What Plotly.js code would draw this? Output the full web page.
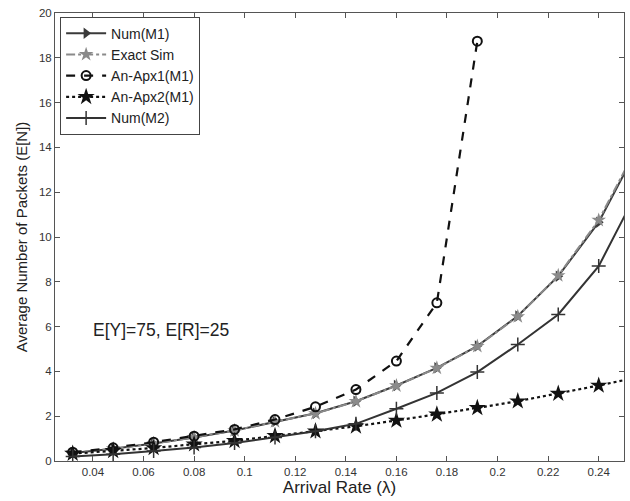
<!DOCTYPE html>
<html><head><meta charset="utf-8">
<script src="https://cdn.plot.ly/plotly-3.0.1.min.js"></script>
<style>body{margin:0;background:#fff}#chart{width:630px;height:501px}</style>
</head><body><div id="chart"></div>
<script>
const lambda = [0.032,0.048,0.064,0.08,0.096,0.112,0.128,0.144,0.16,0.176,0.192,0.208,0.224,0.24,0.256];
const numM1   = [0.36,0.55,0.78,1.05,1.36,1.76,2.13,2.67,3.37,4.16,5.13,6.47,8.25,10.66,14.1];
const exactSim= [0.36,0.55,0.78,1.05,1.36,1.76,2.12,2.66,3.36,4.15,5.12,6.45,8.28,10.75,14.2];
const lambdaApx1 = [0.032,0.048,0.064,0.08,0.096,0.112,0.128,0.144,0.16,0.176,0.192];
const anApx1  = [0.39,0.59,0.84,1.11,1.41,1.85,2.42,3.19,4.46,7.06,18.74];
const anApx2  = [0.33,0.45,0.58,0.75,0.9,1.12,1.33,1.55,1.81,2.08,2.37,2.67,3.01,3.37,3.75];
const numM2   = [0.2,0.3,0.45,0.6,0.8,1.05,1.33,1.66,2.33,3.04,3.97,5.2,6.54,8.7,12.2];
const seriesNames = ['Num(M1)','Exact Sim','An-Apx1(M1)','An-Apx2(M1)','Num(M2)'];
const xTicks = [0.04,0.06,0.08,0.1,0.12,0.14,0.16,0.18,0.2,0.22,0.24];
const xTickText = ['0.04','0.06','0.08','0.1','0.12','0.14','0.16','0.18','0.2','0.22','0.24'];
const yTicks = [0,2,4,6,8,10,12,14,16,18,20];

const traces = [
  {x:lambda,y:numM1,name:seriesNames[0],mode:'lines+markers',
   line:{color:'#3a3a3a',width:2},marker:{symbol:'triangle-right',size:10,color:'#3a3a3a'}},
  {x:lambda,y:exactSim,name:seriesNames[1],mode:'lines+markers',
   line:{color:'#8a8a8a',width:2,dash:'dashdot'},marker:{symbol:'star',size:11,color:'#8a8a8a'}},
  {x:lambdaApx1,y:anApx1,name:seriesNames[2],mode:'lines+markers',
   line:{color:'#111',width:2.2,dash:'dash'},marker:{symbol:'circle-open',size:9,color:'#111',line:{width:2}}},
  {x:lambda,y:anApx2,name:seriesNames[3],mode:'lines+markers',
   line:{color:'#111',width:2.2,dash:'dot'},marker:{symbol:'star',size:13,color:'#111'}},
  {x:lambda,y:numM2,name:seriesNames[4],mode:'lines+markers',
   line:{color:'#333',width:2},marker:{symbol:'cross-thin-open',size:10,color:'#333',line:{width:1.5,color:'#333'}}}
];

const layout = {
  width:630,height:501,
  margin:{l:55,r:6,t:13,b:40},
  paper_bgcolor:'#fff',plot_bgcolor:'#fff',
  font:{family:'Liberation Sans, Arial, sans-serif',color:'#222'},
  showlegend:true,
  legend:{x:0.009,y:0.992,xanchor:'left',yanchor:'top',bgcolor:'#fff',bordercolor:'#444',borderwidth:1,
          font:{size:14,color:'#222'},tracegroupgap:0,itemwidth:40},
  xaxis:{range:[0.025,0.25],tickvals:xTicks,ticktext:xTickText,ticks:'inside',ticklen:5,tickcolor:'#555',
         showline:true,linecolor:'#555',linewidth:1,mirror:'ticks',showgrid:false,zeroline:false,
         tickfont:{size:11.5,color:'#333'},
         title:{text:'Arrival Rate (λ)',font:{size:17,color:'#222'},standoff:3}},
  yaxis:{range:[0,20],tickvals:yTicks,ticks:'inside',ticklen:5,tickcolor:'#555',
         showline:true,linecolor:'#555',linewidth:1,mirror:'ticks',showgrid:false,zeroline:false,
         tickfont:{size:11.5,color:'#333'},
         title:{text:'Average Number of Packets (E[N])',font:{size:15,color:'#222'},standoff:7}},
  annotations:[{x:0.067,y:5.87,xref:'x',yref:'y',text:'E[Y]=75, E[R]=25',showarrow:false,
                font:{size:17.5,color:'#222'}}]
};
Plotly.newPlot('chart',traces,layout,{displayModeBar:false,staticPlot:true});
</script></body></html>
